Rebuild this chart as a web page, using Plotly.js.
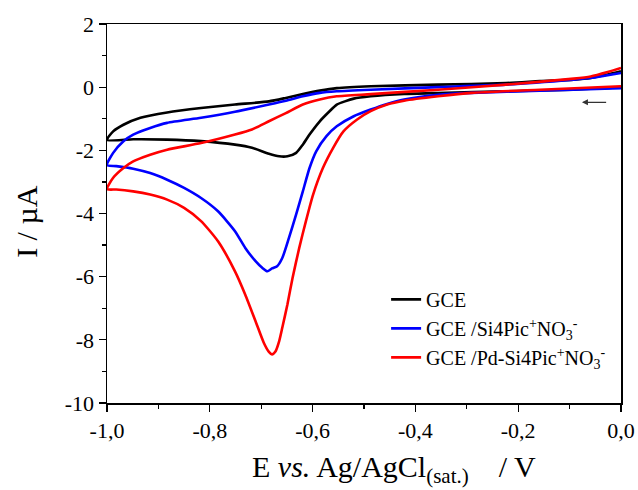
<!DOCTYPE html>
<html>
<head>
<meta charset="utf-8">
<script src="https://cdn.plot.ly/plotly-3.0.1.min.js"></script>
<style>html,body{margin:0;padding:0;background:#fff;}#chart{width:638px;height:490px;}</style>
</head>
<body>
<div id="chart"></div>
<script>
// Potential (V vs Ag/AgCl) and current (µA); each loop: cathodic scan 0 -> -1 then return -1 -> 0
const gceE = [0.0,-0.092,-0.224,-0.356,-0.422,-0.487,-0.520,-0.553,-0.567,-0.586,-0.606,-0.619,-0.632,-0.649,-0.665,-0.685,-0.718,-0.751,-0.817,-0.883,-0.949,-1.0,
  -0.988,-0.968,-0.935,-0.883,-0.817,-0.751,-0.685,-0.652,-0.619,-0.586,-0.553,-0.487,-0.356,-0.224,-0.158,-0.092,-0.059,-0.026,0.0];
const gceI = [-0.004,-0.078,-0.131,-0.184,-0.215,-0.289,-0.363,-0.553,-0.764,-1.08,-1.50,-1.82,-2.08,-2.19,-2.19,-2.11,-1.92,-1.82,-1.71,-1.66,-1.65,-1.67,
  -1.40,-1.19,-0.97,-0.80,-0.66,-0.55,-0.45,-0.34,-0.22,-0.11,-0.03,0.03,0.08,0.13,0.19,0.24,0.29,0.40,0.50];

const siE = [0.0,-0.158,-0.290,-0.356,-0.422,-0.455,-0.487,-0.520,-0.553,-0.573,-0.593,-0.606,-0.619,-0.632,-0.646,-0.659,-0.669,-0.679,-0.688,-0.698,-0.711,-0.731,-0.751,-0.784,-0.817,-0.850,-0.883,-0.916,-0.949,-0.982,-1.0,
  -0.988,-0.968,-0.949,-0.916,-0.883,-0.817,-0.751,-0.685,-0.652,-0.619,-0.586,-0.553,-0.487,-0.356,-0.224,-0.092,-0.059,-0.026,0.0];
const siI = [-0.03,-0.11,-0.18,-0.24,-0.39,-0.53,-0.71,-0.92,-1.24,-1.55,-2.03,-2.56,-3.30,-4.03,-4.77,-5.41,-5.67,-5.74,-5.83,-5.72,-5.51,-5.09,-4.56,-3.93,-3.51,-3.19,-2.93,-2.72,-2.58,-2.50,-2.47,
  -2.08,-1.71,-1.50,-1.29,-1.13,-0.97,-0.78,-0.55,-0.43,-0.29,-0.18,-0.13,-0.08,0.0,0.08,0.24,0.29,0.38,0.45];

const pdE = [0.0,-0.158,-0.290,-0.356,-0.422,-0.455,-0.487,-0.514,-0.540,-0.560,-0.580,-0.599,-0.613,-0.626,-0.639,-0.649,-0.659,-0.665,-0.672,-0.679,-0.685,-0.695,-0.711,-0.731,-0.751,-0.784,-0.817,-0.850,-0.883,-0.916,-0.949,-0.982,-1.0,
  -0.988,-0.968,-0.949,-0.916,-0.883,-0.817,-0.751,-0.718,-0.685,-0.652,-0.619,-0.586,-0.553,-0.487,-0.356,-0.224,-0.092,-0.059,-0.026,0.0];
const pdI = [0.03,-0.08,-0.18,-0.29,-0.43,-0.55,-0.76,-1.03,-1.40,-1.92,-2.56,-3.40,-4.24,-5.09,-6.04,-6.88,-7.62,-8.04,-8.36,-8.46,-8.38,-8.09,-7.41,-6.57,-5.83,-4.88,-4.24,-3.82,-3.56,-3.40,-3.30,-3.24,-3.23,
  -2.87,-2.56,-2.35,-2.14,-1.98,-1.77,-1.50,-1.34,-1.08,-0.82,-0.55,-0.39,-0.29,-0.22,-0.08,0.08,0.27,0.34,0.48,0.61];

const seriesNames = ["GCE", "GCE /Si4Pic<sup>+</sup>NO<sub>3</sub><sup>-</sup>", "GCE /Pd-Si4Pic<sup>+</sup>NO<sub>3</sub><sup>-</sup>"];
const seriesColors = ["#000000", "#0000ff", "#ff0000"];

const xTickVals = [-1.0, -0.8, -0.6, -0.4, -0.2, 0.0];
const xTickText = ["-1,0", "-0,8", "-0,6", "-0,4", "-0,2", "0,0"];
const yTickVals = [2, 0, -2, -4, -6, -8, -10];
const yTickText = ["2", "0", "-2", "-4", "-6", "-8", "-10"];

const xTitle = "E <i>vs.</i> Ag/AgCl<sub>(sat.)</sub>&nbsp;&nbsp;&nbsp; / V";
const yTitle = "I / µA";

const xs = [gceE, siE, pdE], ys = [gceI, siI, pdI];
const traces = xs.map((x, i) => ({
  x: x, y: ys[i], type: "scatter", mode: "lines", name: seriesNames[i],
  line: {color: seriesColors[i], width: 2.6, shape: "spline", smoothing: 0.6}
}));

const serif = "Liberation Serif, Times New Roman, serif";
const layout = {
  width: 638, height: 490,
  margin: {l: 107, r: 17, t: 24, b: 87},
  paper_bgcolor: "#fff", plot_bgcolor: "#fff",
  showlegend: true,
  font: {family: serif, color: "#000"},
  xaxis: {
    range: [-1.0, 0.0], tickmode: "array", tickvals: xTickVals, ticktext: xTickText,
    ticks: "outside", ticklen: 7, tickwidth: 1.3, tickcolor: "#000",
    minor: {dtick: 0.1, tick0: 0, ticks: "outside", ticklen: 4, tickwidth: 1.3, tickcolor: "#000", showgrid: false},
    showline: true, linecolor: "#000", linewidth: 1.5, mirror: true,
    showgrid: false, zeroline: false,
    tickfont: {family: serif, size: 22, color: "#000"}
  },
  yaxis: {
    range: [-10, 2], tickmode: "array", tickvals: yTickVals, ticktext: yTickText,
    ticks: "outside", ticklen: 7, tickwidth: 1.3, tickcolor: "#000",
    minor: {dtick: 1, tick0: 0, ticks: "outside", ticklen: 4, tickwidth: 1.3, tickcolor: "#000", showgrid: false},
    showline: true, linecolor: "#000", linewidth: 1.5, mirror: true,
    showgrid: false, zeroline: false,
    tickfont: {family: serif, size: 22, color: "#000"}
  },
  legend: {
    x: 0.543, y: 0.325, xanchor: "left", yanchor: "top",
    bgcolor: "rgba(0,0,0,0)", borderwidth: 0,
    font: {family: serif, size: 20, color: "#000"},
    tracegroupgap: 0
  },
  annotations: [
    {
      x: -0.076, y: -0.48, ax: -0.026, ay: -0.48, xref: "x", yref: "y", axref: "x", ayref: "y",
      text: "", showarrow: true, arrowhead: 2, arrowsize: 1, arrowwidth: 1.2, arrowcolor: "#333"
    },
    {
      text: xTitle, xref: "paper", yref: "paper", x: 0.558, y: -0.118, xanchor: "center", yanchor: "top",
      showarrow: false, font: {family: serif, size: 30, color: "#000"}
    },
    {
      text: yTitle, xref: "paper", yref: "paper", x: -0.158, y: 0.48, xanchor: "center", yanchor: "middle",
      textangle: -90, showarrow: false, font: {family: serif, size: 30, color: "#000"}
    }
  ]
};

Plotly.newPlot("chart", traces, layout, {displayModeBar: false, staticPlot: true});
</script>
</body>
</html>
